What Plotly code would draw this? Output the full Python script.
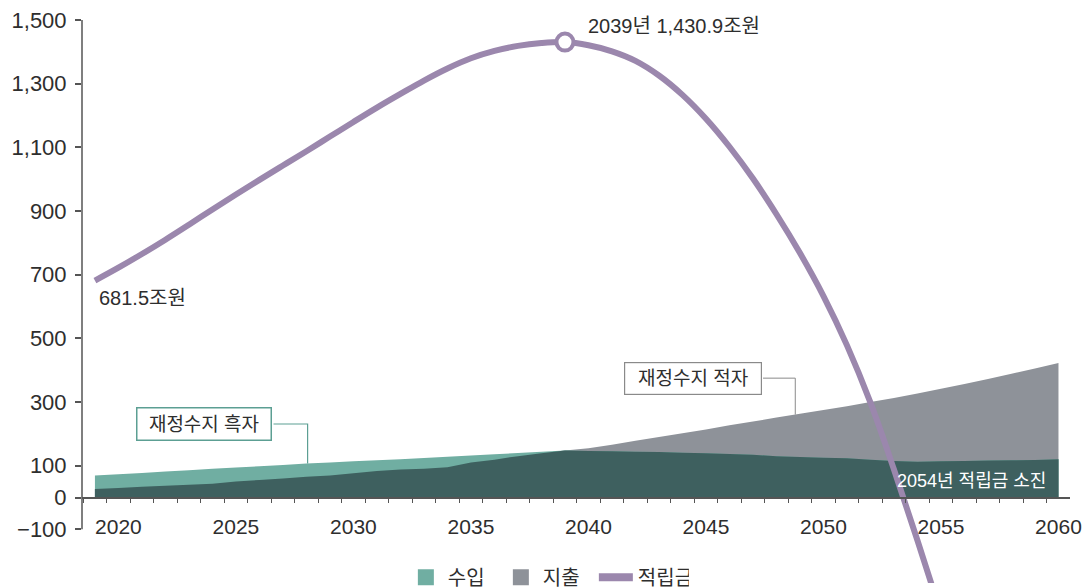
import numpy as np
import plotly.graph_objects as go

# ---------------- data ----------------
years_flow = list(range(2019, 2061))
revenue = [69, 73, 77, 82, 86, 90, 94, 98, 102, 107, 110, 114, 117, 120, 124, 128, 132, 136, 140, 144, 148,
           146, 145, 144, 143, 141, 139, 137, 134, 130, 127, 125, 123, 119, 115, 112, 114, 115, 116, 117, 118, 120]
expenditure = [27, 30, 34, 37, 40, 43, 50, 55, 60, 65, 69, 76, 83, 88, 90, 95, 110, 119, 130, 139, 148,
               155, 166, 178, 190, 202, 214, 227, 239, 251, 263, 275, 287, 300, 313, 327, 342, 357, 372, 389, 405, 423]

years_fund = list(range(2019, 2056))
fund = [681.5, 722, 765, 810, 857, 905, 952, 998, 1043, 1088, 1134, 1180, 1225, 1268, 1310, 1348, 1380, 1403,
        1419, 1428, 1430.9, 1421, 1402, 1372, 1326, 1265, 1190, 1102, 1002, 890, 768, 633, 478, 298, 88, -135, -365]

ytick_vals = [-100, 0, 100, 300, 500, 700, 900, 1100, 1300, 1500]
xtick_vals = [2020, 2025, 2030, 2035, 2040, 2045, 2050, 2055, 2060]

# ---------------- styles ----------------
C_REV = "#70AEA2"
C_EXP = "#8E9299"
C_DARK = "#3E605F"
C_FUND = "#9B87AD"
C_TEXT = "#2E2E2E"
C_AXIS = "#555555"
FONT = "Liberation Sans, Noto Sans CJK KR"

Y_MIN, Y_MAX = -268.6, 1547.4
X_MIN, X_MAX = 2018.45, 2060.49
PX_PER_YEAR = 23.5

overlap = np.minimum(np.array(revenue), np.array(expenditure))

fig = go.Figure()

fig.add_trace(go.Scatter(x=years_flow, y=expenditure, name="지출", mode="none",
                         fill="tozeroy", fillcolor=C_EXP, showlegend=False, hoverinfo="skip"))
fig.add_trace(go.Scatter(x=years_flow, y=revenue, name="수입", mode="none",
                         fill="tozeroy", fillcolor=C_REV, showlegend=False, hoverinfo="skip"))
fig.add_trace(go.Scatter(x=years_flow, y=overlap, name="overlap", mode="none",
                         fill="tozeroy", fillcolor=C_DARK, showlegend=False, hoverinfo="skip"))
fig.add_trace(go.Scatter(x=years_fund, y=fund, name="적립금", mode="lines",
                         line=dict(color=C_FUND, width=6, shape="spline", smoothing=1.0),
                         showlegend=False))

# legend-only entries
fig.add_trace(go.Scatter(x=[None], y=[None], name="수입", mode="markers",
                         marker=dict(symbol="square", size=20, color=C_REV), legendrank=1))
fig.add_trace(go.Scatter(x=[None], y=[None], name="지출", mode="markers",
                         marker=dict(symbol="square", size=20, color=C_EXP), legendrank=2))
fig.add_trace(go.Scatter(x=[None], y=[None], name="적립금", mode="lines",
                         line=dict(color=C_FUND, width=8), legendrank=3))

peak_i = int(np.argmax(fund))
peak_year, peak_val = years_fund[peak_i], fund[peak_i]
fig.add_trace(go.Scatter(x=[peak_year], y=[peak_val], mode="markers", showlegend=False,
                         marker=dict(size=17, color="white", line=dict(color=C_FUND, width=4))))

# ---------------- annotations ----------------
fig.add_annotation(x=years_fund[0], y=fund[0], text="681.5조원", showarrow=False,
                   xanchor="left", yanchor="middle", xshift=2, yshift=-17,
                   font=dict(family=FONT, size=20, color=C_TEXT))
fig.add_annotation(x=peak_year, y=peak_val, text=f"{peak_year}년 1,430.9조원", showarrow=False,
                   xanchor="left", yanchor="middle", xshift=21, yshift=16,
                   font=dict(family=FONT, size=20, color=C_TEXT))

half_box = 70 / PX_PER_YEAR

# surplus box
box1_x, box1_y = 2023.62, 231
fig.add_annotation(x=box1_x, y=box1_y, text="재정수지 흑자", showarrow=False,
                   width=131, height=29, bordercolor="#5C9F93", borderwidth=1.5, borderpad=1,
                   bgcolor="white", font=dict(family=FONT, size=19, color=C_TEXT))
conn1_x = 2028.05
conn1_y = float(np.interp(conn1_x, years_flow, revenue))
fig.add_shape(type="path", xref="x", yref="y",
              path=f"M {box1_x + half_box},{box1_y} L {conn1_x},{box1_y} L {conn1_x},{conn1_y}",
              line=dict(color="#5C9F93", width=1.2))

# deficit box
box2_x, box2_y = 2044.45, 375
fig.add_annotation(x=box2_x, y=box2_y, text="재정수지 적자", showarrow=False,
                   width=134, height=29, bordercolor="#8A8A8A", borderwidth=1.2, borderpad=1,
                   bgcolor="white", font=dict(family=FONT, size=19, color=C_TEXT))
conn2_x = 2048.8
conn2_y = float(np.interp(conn2_x, years_flow, expenditure))
fig.add_shape(type="path", xref="x", yref="y",
              path=f"M {box2_x + half_box},{box2_y} L {conn2_x},{box2_y} L {conn2_x},{conn2_y}",
              line=dict(color="#8A8A8A", width=1.0))

fig.add_annotation(x=years_flow[-1], y=52, text="2054년 적립금 소진", showarrow=False,
                   xanchor="right", yanchor="middle", xshift=-10,
                   font=dict(family=FONT, size=18, color="white"))

# y axis line (only from -100 to 1500)
fig.add_shape(type="line", xref="paper", yref="y", x0=0, x1=0,
              y0=min(ytick_vals), y1=max(ytick_vals), line=dict(color=C_AXIS, width=1.5))

x_axis_pos = (0 - Y_MIN) / (Y_MAX - Y_MIN)

fig.update_layout(
    width=1091, height=588,
    margin=dict(l=82, r=21, t=5, b=5, autoexpand=False),
    plot_bgcolor="white", paper_bgcolor="white",
    font=dict(family=FONT, size=20, color=C_TEXT),
    showlegend=True,
    legend=dict(orientation="h", x=0.47, y=0.01, xanchor="center", yanchor="middle",
                bgcolor="rgba(0,0,0,0)", font=dict(family=FONT, size=20, color=C_TEXT),
                itemwidth=34, entrywidth=46, entrywidthmode="pixels", tracegroupgap=0),
    xaxis=dict(range=[X_MIN, X_MAX], tickvals=xtick_vals, ticks="", showgrid=False,
               zeroline=False, showline=True, linecolor=C_AXIS, linewidth=1.5,
               anchor="free", position=x_axis_pos, ticklabelstandoff=11,
               tickfont=dict(family=FONT, size=21, color=C_TEXT),
               minor=dict(ticks="outside", ticklen=5, tickcolor=C_AXIS, tickwidth=1.2,
                          tick0=2018.5, dtick=1, showgrid=False)),
    yaxis=dict(range=[Y_MIN, Y_MAX], tickvals=ytick_vals, tickformat=",", ticks="outside",
               ticklen=6, tickcolor=C_AXIS, tickwidth=1.5, showgrid=False, zeroline=False,
               showline=False, ticklabelstandoff=4,
               tickfont=dict(family=FONT, size=22, color=C_TEXT)),
)

fig.write_html("out.html")
